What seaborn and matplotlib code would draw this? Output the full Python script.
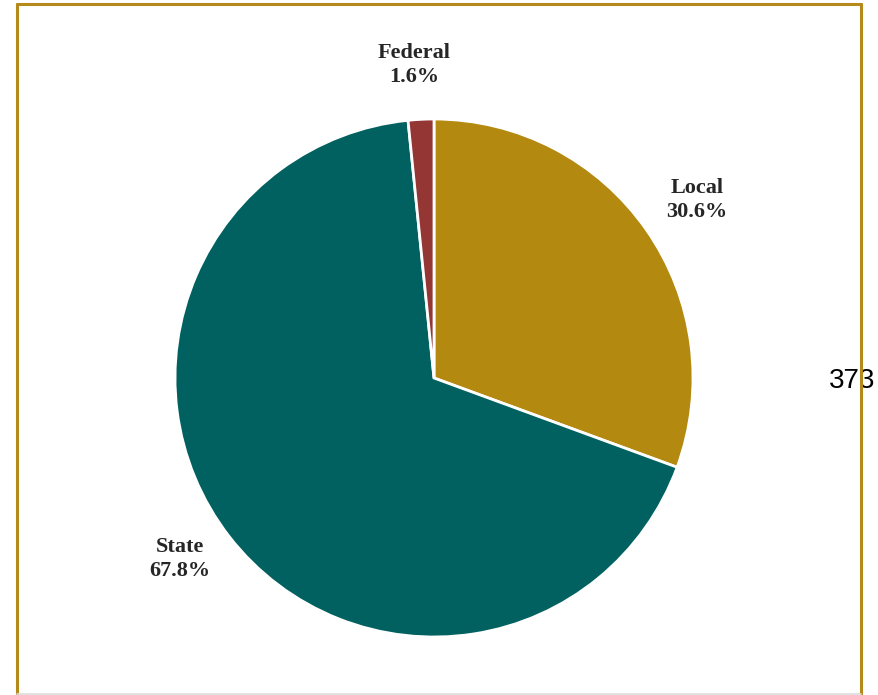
import matplotlib
matplotlib.use("Agg")
import matplotlib.pyplot as plt
from matplotlib.lines import Line2D
import seaborn as sns

# funding shares (percent)
sources = ["Local", "State", "Federal"]
shares = [30.6, 67.8, 1.6]
colors = ["#B3890F", "#006160", "#943634"]
page_number = "373"

sns.set_style("white")
plt.rcParams['font.family'] = ['Liberation Serif', 'DejaVu Serif']

W, H = 879, 695
fig = plt.figure(figsize=(W / 100, H / 100), dpi=100)

# pie centre (434, 378) px, radius 259 px
cx, cy, r = 434, 378, 259
ax = fig.add_axes([(cx - r) / W, (H - cy - r) / H, 2 * r / W, 2 * r / H])
ax.pie(shares, colors=colors, startangle=90, counterclock=False,
       wedgeprops=dict(edgecolor="white", linewidth=2))
ax.set_xlim(-1, 1)
ax.set_ylim(-1, 1)
ax.set_aspect("equal")
ax.axis("off")


def px(x, y):
    return x / W, 1 - y / H


label_pos = {"Local": (697, 200), "State": (180, 559), "Federal": (414, 65)}
for name, val in zip(sources, shares):
    x, y = label_pos[name]
    fig.text(*px(x, y), f"{name}\n{val:.1f}%", ha="center", va="center",
             fontsize=16, fontweight="bold", color="#262626", linespacing=1.25)

fig.text(*px(852, 381), page_number, ha="center", va="center", fontsize=20,
         family=["Liberation Sans", "DejaVu Sans"], color="black")

# page frame (drawn over the page number, as in the scan)
gold = "#B5891C"
for (x0, y0, x1, y1) in [(17, 4, 17, 695), (17, 4, 861, 4), (861, 4, 861, 695)]:
    fig.add_artist(Line2D([x0 / W, x1 / W], [1 - y0 / H, 1 - y1 / H],
                          color=gold, linewidth=2.2, zorder=5,
                          transform=fig.transFigure))
fig.add_artist(Line2D([17 / W, 861 / W], [1 - 693.5 / H, 1 - 693.5 / H],
                      color="#DDDDDD", linewidth=1.2, zorder=5,
                      transform=fig.transFigure))

fig.savefig("out.png", dpi=100)
